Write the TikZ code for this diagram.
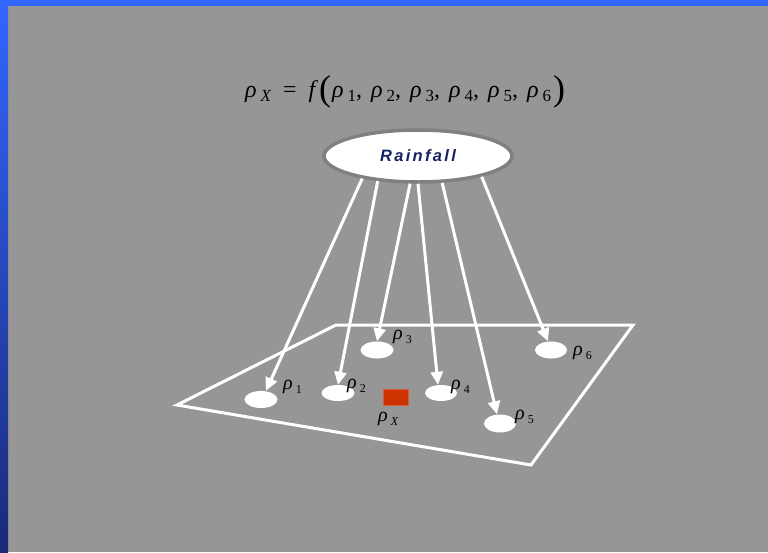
\documentclass[tikz,border=0pt]{standalone}
\usepackage{fontspec}
\setmainfont{Liberation Serif}
\newfontfamily\rainfont[LetterSpace=14]{Liberation Sans}
\usetikzlibrary{arrows.meta,shapes.geometric}

\definecolor{bggray}{RGB}{150,150,150}
\definecolor{edgegray}{RGB}{128,128,128}
\definecolor{barblue}{RGB}{51,102,255}
\definecolor{bardark}{RGB}{26,42,120}
\definecolor{navytext}{RGB}{22,36,98}
\definecolor{gaugered}{RGB}{204,51,0}

% rho with a lowered, spaced subscript: [size]{gap}{subscript}
\newcommand{\rhosub}[3][12]{{\itshape ρ}\kern#2\raisebox{-4pt}{\fontsize{#1}{#1}\selectfont #3}}

\tikzset{
  gauge/.style={ellipse, fill=white, inner sep=0pt},
  rainarrow/.style={draw=white, line width=3pt,
    -{Triangle[length=13pt,width=12pt]}},
  plane/.style={draw=white, line width=3pt, line join=miter},
  rholabel/.style={anchor=base west, inner sep=0pt, font=\fontsize{20}{22}\selectfont}
}

\begin{document}
\begin{tikzpicture}[x=1pt,y=-1pt]
  % backdrop and frame bars
  \fill[bggray] (0,0) rectangle (768,552);
  \useasboundingbox (0,0) rectangle (768,552);
  \fill[barblue] (0,0) rectangle (768,6);
  \shade[top color=barblue, bottom color=bardark] (0,0) rectangle (8,552);

  % relation between the six gauges and the unknown point
  \node[anchor=base west, inner sep=0pt, font=\fontsize{24}{26}\selectfont] (eq) at (245,97)
    {\rhosub[17]{4pt}{\itshape X}\hspace{12pt}=\hspace{12pt}\textit{f}\kern1pt{\fontsize{36}{36}\selectfont\raisebox{-3pt}{(}}\kern1pt%
     \rhosub[17]{4pt}{1},\kern9pt\rhosub[17]{4pt}{2},\kern9pt\rhosub[17]{4pt}{3},\kern9pt\rhosub[17]{4pt}{4},\kern9pt\rhosub[17]{4pt}{5},\kern9pt\rhosub[17]{4pt}{6}%
     \kern2pt{\fontsize{36}{36}\selectfont\raisebox{-3pt}{)}}};

  % ground plane
  \coordinate (p1) at (177,405);
  \coordinate (p2) at (336,325);
  \coordinate (p3) at (633,325);
  \coordinate (p4) at (531,465);
  \draw[plane] (p1) -- (p2) -- (p3) -- (p4) -- cycle;

  % rain gauges
  \node[gauge, minimum width=33pt, minimum height=17pt] (g1) at (261,399.5) {};
  \node[gauge, minimum width=33pt, minimum height=16pt] (g2) at (338,393) {};
  \node[gauge, minimum width=33pt, minimum height=17pt] (g3) at (377,350) {};
  \node[gauge, minimum width=32pt, minimum height=16pt] (g4) at (441,393) {};
  \node[gauge, minimum width=32pt, minimum height=18pt] (g5) at (500,423.5) {};
  \node[gauge, minimum width=32pt, minimum height=17pt] (g6) at (551,350) {};

  % unknown location
  \node[fill=gaugered, draw=gaugered!80!white, line width=0.5pt, minimum width=25pt,
        minimum height=16pt, inner sep=0pt] (x) at (396,397) {};

  % labels
  \node[rholabel] (l1) at (283,389) {\rhosub{3pt}{1}};
  \node[rholabel] (l2) at (347,388) {\rhosub{3pt}{2}};
  \node[rholabel] (l3) at (393,339) {\rhosub{3pt}{3}};
  \node[rholabel] (l4) at (451,389) {\rhosub{3pt}{4}};
  \node[rholabel] (l5) at (515,419) {\rhosub{3pt}{5}};
  \node[rholabel] (l6) at (573,355) {\rhosub{3pt}{6}};
  \node[rholabel] (lx) at (378,421) {\rhosub{3pt}{\itshape X}};

  % rainfall source
  \node[ellipse, fill=white, draw=edgegray, line width=3.5pt, minimum width=188pt,
        minimum height=52pt, inner sep=0pt] (rain) at (418,156)
        {\rainfont\bfseries\itshape\fontsize{16.5}{18}\selectfont\color{navytext}Rainfall};

  % arrows from the rainfall to each gauge
  \draw[rainarrow] (rain.202) -- ([xshift=5pt]g1.north);
  \draw[rainarrow] (rain.212) -- (g2.north);
  \draw[rainarrow] (rain.254) -- (g3.north);
  \draw[rainarrow] (rain.270) -- ([xshift=-3pt]g4.north);
  \draw[rainarrow] (rain.312) -- ([xshift=-3pt]g5.north);
  \draw[rainarrow] (rain.342) -- ([xshift=-3pt]g6.north);
\end{tikzpicture}
\end{document}
